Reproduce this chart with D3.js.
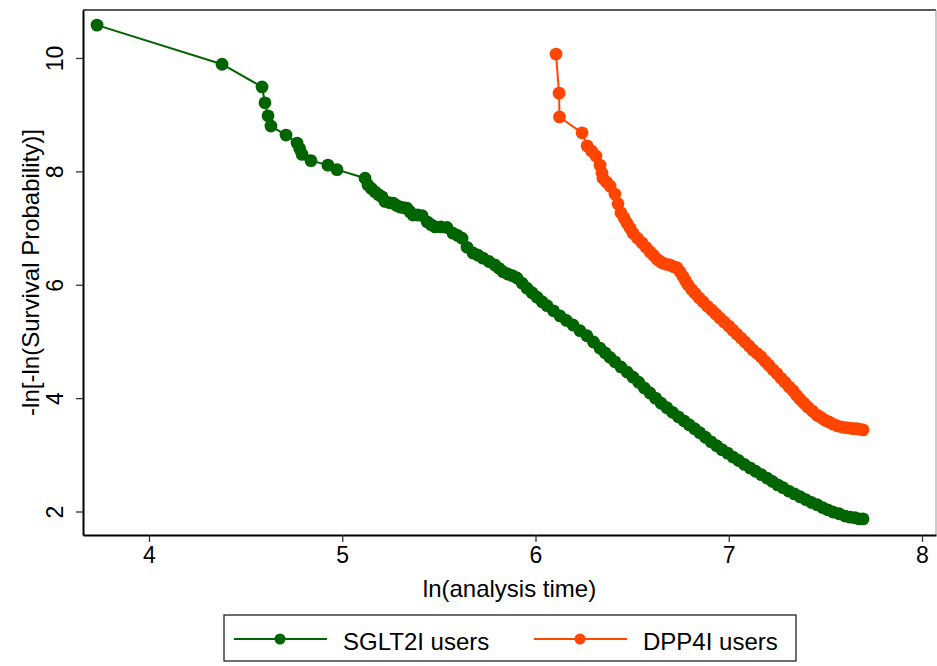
<!DOCTYPE html>
<html>
<head>
<meta charset="utf-8">
<script src="https://cdn.jsdelivr.net/npm/d3@7"></script>
<style>
  body { margin: 0; background: #fff; }
  svg { display: block; font-family: "Liberation Sans", Arial, Helvetica, sans-serif; }
</style>
</head>
<body>
<svg></svg>
<script>
// ln(analysis time) and -ln[-ln(S)]
var sgltX = [3.731, 4.378, 4.585, 4.600, 4.616, 4.631, 4.709, 4.766, 4.780, 4.792, 4.838, 4.926, 4.973,
    5.118, 5.133, 5.150, 5.169, 5.188, 5.206, 5.221, 5.242, 5.263, 5.281, 5.299, 5.317, 5.335, 5.350,
    5.366, 5.390, 5.413, 5.439, 5.460, 5.480, 5.511, 5.542, 5.573, 5.597, 5.620, 5.646, 5.677, 5.703,
    5.728, 5.759, 5.790, 5.811, 5.832, 5.856, 5.880, 5.904, 5.930, 5.956, 5.982, 6.008, 6.034, 6.060,
    6.093, 6.127, 6.160, 6.194, 6.230, 6.266, 6.300, 6.334, 6.360, 6.385, 6.411, 6.442, 6.474, 6.505,
    6.534, 6.563, 6.592, 6.621, 6.650, 6.680, 6.709, 6.739, 6.768, 6.795, 6.823, 6.850, 6.879, 6.908,
    6.937, 6.965, 6.994, 7.022, 7.051, 7.081, 7.110, 7.139, 7.169, 7.198, 7.226, 7.253, 7.281, 7.310,
    7.340, 7.369, 7.398, 7.428, 7.457, 7.485, 7.512, 7.540, 7.571, 7.602, 7.628, 7.653, 7.675, 7.695];
var sgltY = [10.58, 9.89, 9.49, 9.21, 8.98, 8.80, 8.64, 8.50, 8.40, 8.30, 8.19, 8.11, 8.03,
    7.88, 7.76, 7.70, 7.64, 7.59, 7.55, 7.47, 7.45, 7.44, 7.40, 7.37, 7.36, 7.35, 7.29,
    7.23, 7.23, 7.22, 7.11, 7.06, 7.02, 7.02, 7.01, 6.91, 6.87, 6.82, 6.66, 6.56, 6.52,
    6.47, 6.41, 6.35, 6.29, 6.23, 6.19, 6.16, 6.12, 6.03, 5.94, 5.86, 5.78, 5.70, 5.63,
    5.54, 5.45, 5.37, 5.29, 5.19, 5.10, 4.99, 4.88, 4.80, 4.72, 4.64, 4.55, 4.46, 4.37,
    4.28, 4.18, 4.09, 4.00, 3.91, 3.83, 3.75, 3.67, 3.60, 3.53, 3.46, 3.39, 3.31, 3.23,
    3.16, 3.09, 3.03, 2.96, 2.90, 2.83, 2.77, 2.71, 2.65, 2.59, 2.53, 2.47, 2.42, 2.36,
    2.31, 2.26, 2.21, 2.16, 2.12, 2.07, 2.03, 1.99, 1.96, 1.92, 1.90, 1.89, 1.87, 1.87];

var dppX = [6.106, 6.122, 6.124, 6.241, 6.267, 6.290, 6.313, 6.334, 6.344, 6.349, 6.368, 6.386, 6.411,
    6.427, 6.442, 6.458, 6.473, 6.489, 6.505, 6.528, 6.551, 6.572, 6.593, 6.611, 6.629, 6.645, 6.660,
    6.678, 6.696, 6.714, 6.732, 6.748, 6.763, 6.776, 6.789, 6.807, 6.825, 6.846, 6.867, 6.890, 6.913,
    6.934, 6.955, 6.978, 7.001, 7.021, 7.042, 7.063, 7.084, 7.105, 7.125, 7.146, 7.167, 7.188, 7.208,
    7.229, 7.250, 7.271, 7.291, 7.312, 7.333, 7.351, 7.369, 7.390, 7.410, 7.434, 7.457, 7.478, 7.498,
    7.519, 7.540, 7.563, 7.586, 7.607, 7.627, 7.646, 7.664, 7.680, 7.695];
var dppY = [10.07, 9.38, 8.96, 8.68, 8.45, 8.36, 8.27, 8.11, 7.97, 7.88, 7.81, 7.74, 7.60,
    7.43, 7.27, 7.18, 7.09, 7.00, 6.91, 6.82, 6.74, 6.66, 6.58, 6.52, 6.45, 6.41, 6.38,
    6.36, 6.35, 6.32, 6.30, 6.23, 6.15, 6.07, 6.00, 5.92, 5.85, 5.77, 5.70, 5.62, 5.55,
    5.48, 5.41, 5.34, 5.27, 5.20, 5.13, 5.06, 4.99, 4.92, 4.85, 4.79, 4.73, 4.65, 4.58,
    4.50, 4.43, 4.35, 4.28, 4.20, 4.13, 4.05, 3.98, 3.91, 3.84, 3.77, 3.70, 3.66, 3.61,
    3.58, 3.54, 3.51, 3.49, 3.48, 3.47, 3.46, 3.46, 3.45, 3.44];

var xTicks = [4, 5, 6, 7, 8];
var yTicks = [2, 4, 6, 8, 10];
var seriesNames = ["SGLT2I users", "DPP4I users"];
var seriesColors = ["#006400", "#ff4500"];

var svg = d3.select("svg")
    .attr("width", 937)
    .attr("height", 666);

var plotLeft = 83, plotRight = 936, plotTop = 10, plotBottom = 535;

var x = d3.scaleLinear().domain([3.6585, 8.0724]).range([plotLeft, plotRight]);
var y = d3.scaleLinear().domain([1.5855, 10.8467]).range([plotBottom, plotTop]);

var series = [
    { name: seriesNames[0], color: seriesColors[0], pts: d3.zip(sgltX, sgltY) },
    { name: seriesNames[1], color: seriesColors[1], pts: d3.zip(dppX, dppY) }
];

// frame: dark top, light right, black axes
svg.append("line").attr("x1", plotLeft).attr("x2", plotRight).attr("y1", plotTop).attr("y2", plotTop)
    .attr("stroke", "#222").attr("stroke-width", 1.5);
svg.append("line").attr("x1", plotRight).attr("x2", plotRight).attr("y1", plotTop).attr("y2", plotBottom)
    .attr("stroke", "#999").attr("stroke-width", 1);

var line = d3.line()
    .x(function(d) { return x(d[0]); })
    .y(function(d) { return y(d[1]); });

var g = svg.append("g");
series.forEach(function(s) {
    g.append("path")
        .attr("d", line(s.pts))
        .attr("fill", "none")
        .attr("stroke", s.color)
        .attr("stroke-width", 2);
    g.selectAll(null)
        .data(s.pts)
        .enter().append("circle")
        .attr("cx", function(d) { return x(d[0]); })
        .attr("cy", function(d) { return y(d[1]); })
        .attr("r", 6.4)
        .attr("fill", s.color);
});

var xAxis = svg.append("g")
    .attr("transform", "translate(0," + plotBottom + ")")
    .call(d3.axisBottom(x).tickValues(xTicks).tickFormat(d3.format("d"))
        .tickSize(7).tickPadding(5).tickSizeOuter(0));
xAxis.select(".domain").attr("stroke", "#000").attr("stroke-width", 2);
xAxis.selectAll(".tick line").attr("stroke", "#333").attr("stroke-width", 1.3);
xAxis.selectAll(".tick text")
    .attr("fill", "#000")
    .attr("font-size", 23)
    .attr("font-family", "Liberation Sans, Arial, sans-serif");

var yAxis = svg.append("g")
    .attr("transform", "translate(" + plotLeft + ",0)")
    .call(d3.axisLeft(y).tickValues(yTicks).tickFormat(d3.format("d"))
        .tickSize(7).tickSizeOuter(0));
yAxis.select(".domain").attr("stroke", "#000").attr("stroke-width", 2);
yAxis.selectAll(".tick line").attr("stroke", "#333").attr("stroke-width", 1.3);
yAxis.selectAll(".tick text")
    .attr("fill", "#000")
    .attr("font-size", 23)
    .attr("font-family", "Liberation Sans, Arial, sans-serif")
    .attr("x", null).attr("dy", null)
    .attr("text-anchor", "middle")
    .attr("transform", "translate(-20.5,0) rotate(-90)");

svg.append("text")
    .attr("x", (plotLeft + plotRight) / 2)
    .attr("y", 597)
    .attr("text-anchor", "middle")
    .attr("font-size", 24)
    .text("ln(analysis time)");

svg.append("text")
    .attr("transform", "translate(38.5," + ((plotTop + plotBottom) / 2) + ") rotate(-90)")
    .attr("text-anchor", "middle")
    .attr("font-size", 24)
    .text("-ln[-ln(Survival Probability)]");

// legend
var legend = svg.append("g");
legend.append("rect")
    .attr("x", 224).attr("y", 615)
    .attr("width", 572).attr("height", 46)
    .attr("fill", "#fff")
    .attr("stroke", "#222")
    .attr("stroke-width", 1.3);

var legendX = [234, 534];
series.forEach(function(s, i) {
    var lx = legendX[i];
    legend.append("line")
        .attr("x1", lx).attr("x2", lx + 93)
        .attr("y1", 639).attr("y2", 639)
        .attr("stroke", s.color).attr("stroke-width", 2);
    legend.append("circle")
        .attr("cx", lx + 46).attr("cy", 639).attr("r", 5.5)
        .attr("fill", s.color);
    legend.append("text")
        .attr("x", lx + 109).attr("y", 649.5)
        .attr("font-size", 24)
        .text(s.name);
});
</script>
</body>
</html>
